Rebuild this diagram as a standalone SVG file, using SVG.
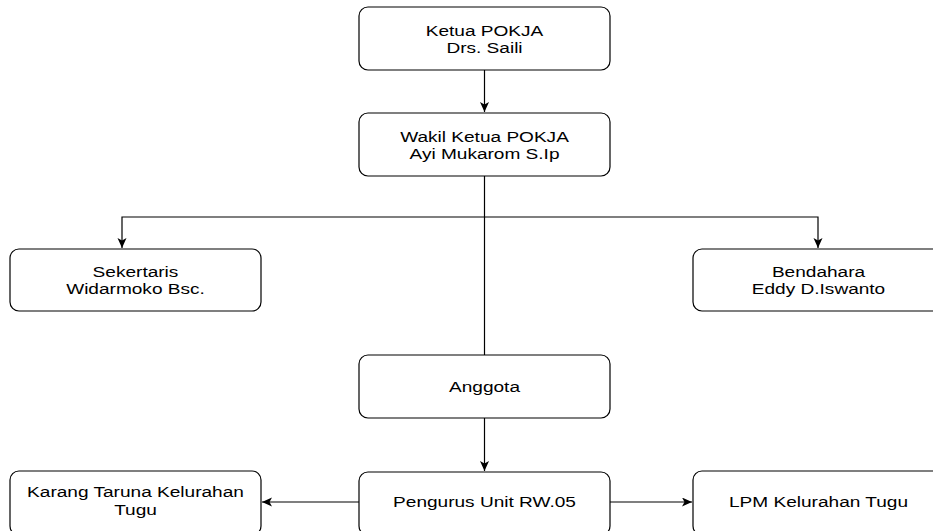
<svg xmlns="http://www.w3.org/2000/svg" width="933" height="531" viewBox="0 0 933 531">
<defs>
<style>
.box{fill:#fff;stroke:#000;stroke-width:1.2}
.t{font-family:"Liberation Sans",Arial,sans-serif;font-size:15.5px;fill:#000;text-anchor:middle}
.e{fill:none;stroke:#000;stroke-width:1.2}
</style>
<marker id="ah" markerUnits="userSpaceOnUse" markerWidth="12" markerHeight="10" refX="10" refY="4.5" orient="auto">
<path d="M0,0 L10,4.5 L0,9 L2.5,4.5 z" fill="#000"/>
</marker>
</defs>
<rect width="933" height="531" fill="#fff"/>
<g id="connectors">
<path class="e" d="M484.5,70 V112" marker-end="url(#ah)"/>
<path class="e" d="M484.5,176 V217 H122 V248" marker-end="url(#ah)"/>
<path class="e" d="M484.5,217 H818 V248" marker-end="url(#ah)"/>
<path class="e" d="M484.5,217 V355"/>
<path class="e" d="M484.5,418 V471" marker-end="url(#ah)"/>
<path class="e" d="M359,502 H262" marker-end="url(#ah)"/>
<path class="e" d="M610,502 H692" marker-end="url(#ah)"/>
</g>
<g id="ketua">
<rect class="box" x="359" y="7" width="251" height="63" rx="9"/>
<text class="t" transform="translate(484.5,0) scale(1.23,1)"><tspan x="0" y="36">Ketua POKJA</tspan><tspan x="0" y="53.5">Drs. Saili</tspan></text>
</g>
<g id="wakil">
<rect class="box" x="359" y="113" width="251" height="63" rx="9"/>
<text class="t" transform="translate(484.5,0) scale(1.23,1)"><tspan x="0" y="142">Wakil Ketua POKJA</tspan><tspan x="0" y="159.5">Ayi Mukarom S.Ip</tspan></text>
</g>
<g id="sekertaris">
<rect class="box" x="10" y="249" width="251" height="62" rx="9"/>
<text class="t" transform="translate(135.5,0) scale(1.23,1)"><tspan x="0" y="277">Sekertaris</tspan><tspan x="0" y="294.5">Widarmoko Bsc.</tspan></text>
</g>
<g id="bendahara">
<rect class="box" x="693" y="249" width="251" height="62" rx="9"/>
<text class="t" transform="translate(818.5,0) scale(1.23,1)"><tspan x="0" y="277">Bendahara</tspan><tspan x="0" y="294.5">Eddy D.Iswanto</tspan></text>
</g>
<g id="anggota">
<rect class="box" x="359" y="355" width="251" height="63" rx="9"/>
<text class="t" transform="translate(484.5,0) scale(1.23,1)"><tspan x="0" y="392">Anggota</tspan></text>
</g>
<g id="pengurus">
<rect class="box" x="359" y="472" width="251" height="63" rx="9"/>
<text class="t" transform="translate(484.5,0) scale(1.23,1)"><tspan x="0" y="507">Pengurus Unit RW.05</tspan></text>
</g>
<g id="karang">
<rect class="box" x="10" y="471" width="251" height="64" rx="9"/>
<text class="t" transform="translate(135.5,0) scale(1.23,1)"><tspan x="0" y="497">Karang Taruna Kelurahan</tspan><tspan x="0" y="515">Tugu</tspan></text>
</g>
<g id="lpm">
<rect class="box" x="693" y="471" width="251" height="64" rx="9"/>
<text class="t" transform="translate(818.5,0) scale(1.23,1)"><tspan x="0" y="507">LPM Kelurahan Tugu</tspan></text>
</g>
</svg>
